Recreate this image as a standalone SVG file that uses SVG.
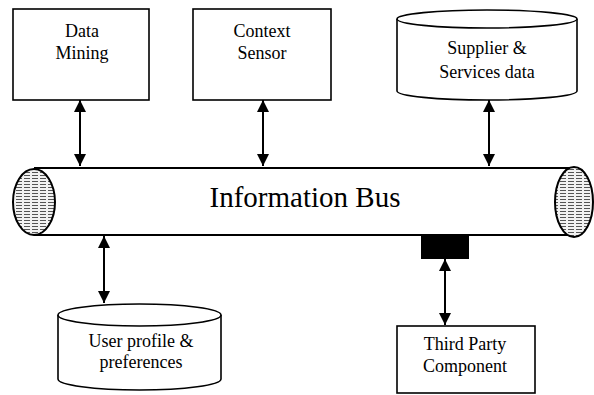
<svg xmlns="http://www.w3.org/2000/svg" width="594" height="395" viewBox="0 0 594 395">
<style>
.box{fill:#fff;stroke:#000;stroke-width:1.6}
.lbl{font-family:"Liberation Serif","Times New Roman",serif;font-size:18px;fill:#000;text-anchor:middle}
.big{font-family:"Liberation Serif","Times New Roman",serif;font-size:29px;fill:#000;text-anchor:middle}
.conn{stroke:#000;stroke-width:2;fill:none;marker-start:url(#ah);marker-end:url(#ah)}
.end{fill:url(#hatch);stroke:#000;stroke-width:2}
</style>
<defs>
<marker id="ah" viewBox="0 0 10 10" refX="10" refY="5" markerWidth="6" markerHeight="6" orient="auto-start-reverse">
<path d="M0,0 L10,5 L0,10 Z" fill="#000"/>
</marker>
<pattern id="hatch" width="8" height="3" patternUnits="userSpaceOnUse">
<rect width="8" height="3" fill="#f2f2f2"/>
<line x1="0" y1="1.5" x2="6" y2="1.5" stroke="#555" stroke-width="1"/>
</pattern>
</defs>

<g id="bus">
<path d="M34,168 L574,168 M34,235 L568,235" stroke="#000" stroke-width="1.8" fill="none"/>
<ellipse class="end" cx="34" cy="202" rx="21" ry="33"/>
<ellipse class="end" cx="574" cy="202" rx="19" ry="35"/>
<text class="big" x="305" y="207">Information Bus</text>
<rect x="421" y="236" width="48" height="23" fill="#000"/>
</g>

<g id="data-mining">
<rect class="box" x="13" y="9" width="136" height="91"/>
<text class="lbl" x="82" y="37">Data</text>
<text class="lbl" x="82" y="59">Mining</text>
</g>

<g id="context-sensor">
<rect class="box" x="193" y="9" width="138" height="91"/>
<text class="lbl" x="262" y="37">Context</text>
<text class="lbl" x="262" y="59">Sensor</text>
</g>

<g id="supplier">
<path class="box" d="M397,19 L397,91 A90,9 0 0 0 577,91 L577,19"/>
<ellipse class="box" cx="487" cy="19" rx="90" ry="9"/>
<text class="lbl" x="487" y="54">Supplier &amp;</text>
<text class="lbl" x="487" y="78">Services data</text>
</g>

<g id="user-profile">
<path class="box" d="M58,315 L58,379 A81.5,11 0 0 0 221,379 L221,315"/>
<ellipse class="box" cx="139.5" cy="315" rx="81.5" ry="11"/>
<text class="lbl" x="141" y="347">User profile &amp;</text>
<text class="lbl" x="141" y="368">preferences</text>
</g>

<g id="third-party">
<rect class="box" x="397" y="326" width="138" height="67"/>
<text class="lbl" x="465" y="350">Third Party</text>
<text class="lbl" x="465" y="372">Component</text>
</g>

<g id="connectors">
<line class="conn" x1="80" y1="100" x2="80" y2="166"/>
<line class="conn" x1="263" y1="100" x2="263" y2="166"/>
<line class="conn" x1="489" y1="100" x2="489" y2="166"/>
<line class="conn" x1="104" y1="236" x2="104" y2="303"/>
<line class="conn" x1="445" y1="259" x2="445" y2="325"/>
</g>
</svg>
